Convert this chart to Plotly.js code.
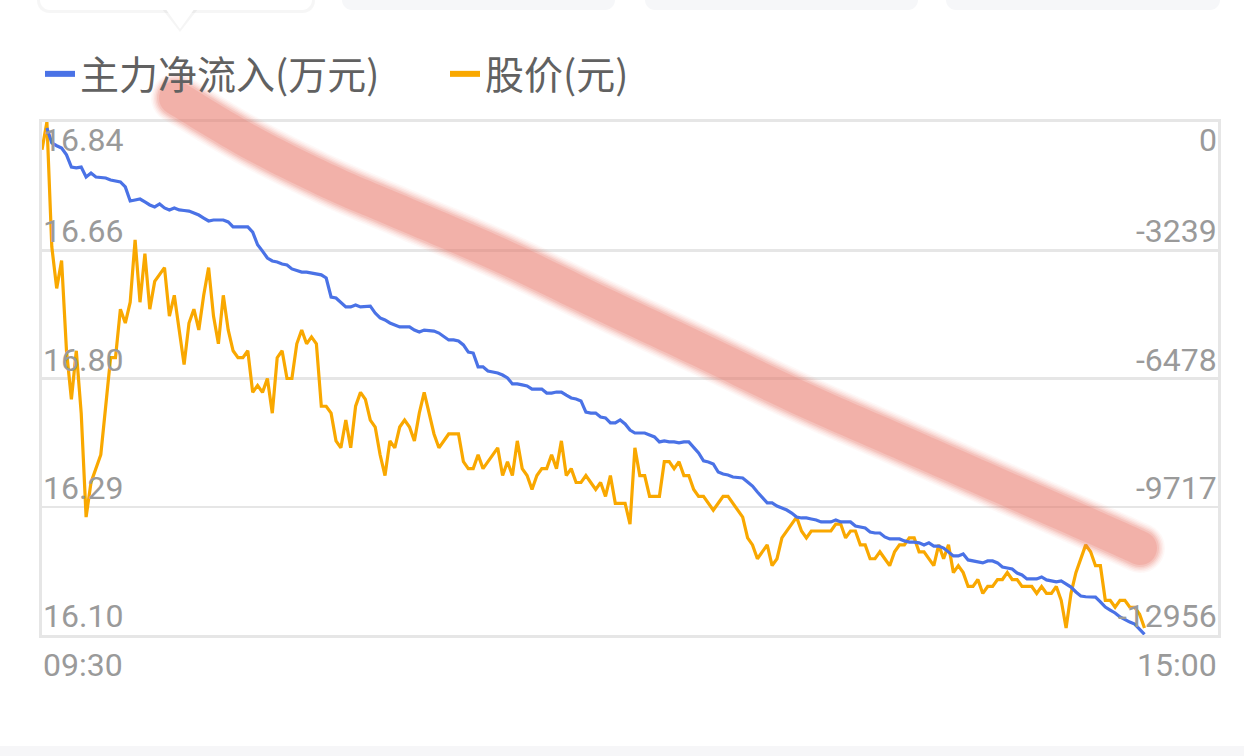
<!DOCTYPE html>
<html><head><meta charset="utf-8">
<script src="https://cdn.plot.ly/plotly-3.0.1.min.js"></script>
<style>html,body{margin:0;padding:0;background:#fff;overflow:hidden}#chart{width:1244px;height:756px}</style>
</head><body><div id="chart"></div>
<script>
// ---------- data ----------
const seriesNames = ['主力净流入(万元)', '股价(元)'];
const timeLabels = ['09:30', '15:00'];
const priceTickText = ['16.84', '16.66', '16.80', '16.29', '16.10'];
const flowTickText = ['0', '-3239', '-6478', '-9717', '-12956'];
const priceRange = [16.10, 16.84];
const flowRange = [-12956, 0];
const sessionMinutes = 240;           // 09:30 ... 15:00 (241 slots)

// stock price (元), one value per minute from 09:30
const price = [
16.80,16.84,16.66,16.60,16.64,16.51,16.44,16.51,16.42,16.27,
16.32,16.34,16.36,16.43,16.50,16.50,16.57,16.55,16.58,16.67,
16.58,16.65,16.57,16.61,16.62,16.63,16.56,16.59,16.54,16.49,
16.55,16.57,16.54,16.59,16.63,16.56,16.52,16.59,16.54,16.51,
16.50,16.50,16.51,16.45,16.46,16.45,16.47,16.42,16.50,16.51,
16.47,16.47,16.52,16.54,16.52,16.53,16.52,16.43,16.43,16.42,
16.38,16.37,16.41,16.37,16.43,16.45,16.44,16.41,16.40,16.36,
16.33,16.38,16.37,16.40,16.41,16.40,16.38,16.42,16.45,16.42,
16.39,16.37,16.38,16.39,16.39,16.39,16.35,16.34,16.34,16.36,
16.34,16.35,16.36,16.37,16.33,16.35,16.33,16.38,16.34,16.33,
16.31,16.33,16.34,16.34,16.36,16.34,16.38,16.33,16.34,16.32,
16.32,16.33,16.32,16.31,16.32,16.30,16.33,16.29,16.29,16.29,
16.26,16.37,16.33,16.33,16.30,16.30,16.30,16.35,16.35,16.34,
16.35,16.33,16.33,16.31,16.30,16.30,16.29,16.28,16.29,16.30,
16.30,16.29,16.28,16.27,16.24,16.23,16.21,16.22,16.23,16.20,
16.21,16.24,16.25,16.26,16.27,16.25,16.24,16.25,16.25,16.25,
16.25,16.25,16.26,16.26,16.24,16.25,16.25,16.23,16.23,16.21,
16.21,16.22,16.21,16.20,16.22,16.23,16.23,16.24,16.24,16.22,
16.22,16.21,16.20,16.23,16.21,16.23,16.19,16.20,16.19,16.17,
16.17,16.18,16.16,16.17,16.17,16.18,16.18,16.19,16.18,16.18,
16.17,16.17,16.17,16.16,16.17,16.16,16.16,16.17,16.15,16.11,
16.16,16.19,16.21,16.23,16.22,16.20,16.20,16.15,16.15,16.14,
16.15,16.15,16.14,16.14,16.13,16.11
];

// main net inflow (万元), one value per minute from 09:31
const flowStart = 1;
const flow = [
-150,-530,-600,-660,-830,-1140,-1160,-1140,-1390,-1290,
-1390,-1400,-1415,-1465,-1490,-1515,-1640,-1995,-1970,-1945,
-2020,-2095,-2145,-2070,-2170,-2220,-2170,-2220,-2235,-2250,
-2300,-2350,-2425,-2500,-2475,-2475,-2475,-2525,-2650,-2650,
-2650,-2650,-2780,-3100,-3260,-3435,-3510,-3535,-3585,-3610,
-3710,-3740,-3790,-3790,-3815,-3840,-3860,-3940,-4420,-4445,
-4570,-4670,-4670,-4620,-4670,-4660,-4650,-4825,-4950,-5000,
-5075,-5125,-5175,-5175,-5175,-5255,-5305,-5255,-5265,-5280,
-5330,-5430,-5505,-5505,-5530,-5630,-5810,-5835,-6185,-6185,
-6290,-6315,-6340,-6390,-6465,-6615,-6615,-6640,-6665,-6745,
-6745,-6745,-6845,-6845,-6820,-6820,-6900,-6970,-6995,-7045,
-7325,-7350,-7350,-7450,-7475,-7600,-7600,-7525,-7625,-7780,
-7855,-7855,-7855,-7905,-7955,-8080,-8055,-8080,-8080,-8105,
-8080,-8080,-8210,-8360,-8560,-8585,-8635,-8840,-8890,-8915,
-8965,-8980,-8990,-9090,-9195,-9345,-9470,-9620,-9620,-9700,
-9750,-9800,-9875,-9975,-10000,-10000,-10025,-10050,-10100,-10100,
-10100,-10050,-10100,-10100,-10100,-10205,-10230,-10255,-10355,-10380,
-10380,-10480,-10530,-10530,-10530,-10580,-10610,-10610,-10630,-10685,
-10630,-10710,-10710,-10760,-10860,-10960,-10960,-10910,-11060,-11085,
-11110,-11135,-11085,-11085,-11135,-11240,-11265,-11290,-11390,-11440,
-11540,-11540,-11540,-11490,-11565,-11590,-11615,-11590,-11670,-11745,
-11870,-11970,-11990,-12000,-12000,-12120,-12250,-12325,-12400,-12500,
-12575,-12630,-12680,-12805,-12940
];

// ---------- styling / geometry ----------
const BLUE = '#4a72e6', ORANGE = '#f9a800', GRID = '#e6e6e6', LABEL = '#9a9a9a';
const L = 42, R = 1218, T = 122, B = 635;
const pxX = x => (x - L) / (R - L);
const pxY = y => (B - y) / (B - T);

const priceX = price.map((_, i) => i);
const flowX = flow.map((_, i) => i + flowStart);

const nTicks = priceTickText.length;
const gridVals = priceTickText.map((_, i) => priceRange[1] - i * (priceRange[1] - priceRange[0]) / (nTicks - 1));

const traces = [
  {x: flowX, y: flow, yaxis: 'y2', type: 'scatter', mode: 'lines', name: seriesNames[0],
   line: {color: BLUE, width: 3.2}, showlegend: false, hoverinfo: 'skip'},
  {x: priceX, y: price, yaxis: 'y', type: 'scatter', mode: 'lines', name: seriesNames[1],
   line: {color: ORANGE, width: 3.2}, showlegend: false, hoverinfo: 'skip'},
  // legend entries
  {x: [null], y: [null], type: 'scatter', mode: 'lines', name: seriesNames[0], line: {color: BLUE, width: 6}, showlegend: true},
  {x: [null], y: [null], type: 'scatter', mode: 'lines', name: seriesNames[1], line: {color: ORANGE, width: 6}, showlegend: true}
];

// ---------- axis labels as annotations ----------
const numFont = {family: 'Roboto, "Noto Sans", sans-serif', size: 32, color: LABEL};
const annotations = [];
priceTickText.forEach((t, i) => {
  const top = i === 0;
  annotations.push({xref: 'paper', yref: 'paper', x: 0, y: 1 - i / (nTicks - 1), text: t, showarrow: false,
    xanchor: 'left', yanchor: top ? 'top' : 'bottom', xshift: -1, yshift: top ? 3 : -2, font: numFont});
});
flowTickText.forEach((t, i) => {
  const top = i === 0;
  annotations.push({xref: 'paper', yref: 'paper', x: 1, y: 1 - i / (nTicks - 1), text: t, showarrow: false,
    xanchor: 'right', yanchor: top ? 'top' : 'bottom', xshift: 1, yshift: top ? 3 : -2, font: numFont});
});
annotations.push({xref: 'paper', yref: 'paper', x: 0, y: pxY(665), text: timeLabels[0], showarrow: false,
  xanchor: 'left', yanchor: 'middle', xshift: -1, font: numFont});
annotations.push({xref: 'paper', yref: 'paper', x: 1, y: pxY(665), text: timeLabels[1], showarrow: false,
  xanchor: 'right', yanchor: 'middle', xshift: 1, font: numFont});

// ---------- decorative shapes (tabs, bottom band, marker stroke) ----------
function P(pts, close) {
  return pts.map((p, i) => (i ? 'L' : 'M') + pxX(p[0]).toFixed(5) + ',' + pxY(p[1]).toFixed(5)).join(' ') + (close ? ' Z' : '');
}
function tabPts(x0, x1, yb, r) {
  const pts = [[x0, -30], [x1, -30]];
  for (let k = 0; k <= 8; k++) { const a = k / 8 * Math.PI / 2; pts.push([x1 - r + r * Math.cos(a), yb - r + r * Math.sin(a)]); }
  for (let k = 0; k <= 8; k++) { const a = Math.PI / 2 + k / 8 * Math.PI / 2; pts.push([x0 + r + r * Math.cos(a), yb - r + r * Math.sin(a)]); }
  return pts;
}
const shapes = [];
shapes.push({type: 'path', xref: 'paper', yref: 'paper', layer: 'above', path: P(tabPts(37, 315, 13, 12), true), fillcolor: 'rgba(0,0,0,0.035)', line: {width: 0}});
shapes.push({type: 'path', xref: 'paper', yref: 'paper', layer: 'above', path: P([[162, 9], [198, 9], [180, 32]], true), fillcolor: 'rgba(0,0,0,0.04)', line: {width: 0}});
shapes.push({type: 'path', xref: 'paper', yref: 'paper', layer: 'above', path: P(tabPts(40, 312, 10, 10), true), fillcolor: '#ffffff', line: {width: 0}});
shapes.push({type: 'path', xref: 'paper', yref: 'paper', layer: 'above', path: P([[165, 8], [195, 8], [180, 29]], true), fillcolor: '#ffffff', line: {width: 0}});
[[342, 615], [645, 918], [946, 1220]].forEach(([a, b]) => {
  shapes.push({type: 'path', xref: 'paper', yref: 'paper', layer: 'above', path: P(tabPts(a, b, 10, 10), true), fillcolor: '#f6f7f9', line: {width: 0}});
});
shapes.push({type: 'rect', xref: 'paper', yref: 'paper', layer: 'above', x0: pxX(-5), x1: pxX(1250), y0: pxY(746), y1: pxY(760), fillcolor: '#f6f6f8', line: {width: 0}});

// hand-drawn highlighter stroke
const strokeCenters = [[176,98],[250,142],[330,182],[400,212],[500,255],[600,303],[700,350],[800,398],[900,442],[1000,486],[1100,530],[1140,548]];
function catmull(pts, seg) {
  const out = [];
  for (let i = 0; i < pts.length - 1; i++) {
    const p0 = pts[i - 1] || pts[i], p1 = pts[i], p2 = pts[i + 1], p3 = pts[i + 2] || pts[i + 1];
    for (let s = 0; s < seg; s++) {
      const t = s / seg, t2 = t * t, t3 = t2 * t;
      out.push([0, 1].map(k => 0.5 * ((2 * p1[k]) + (-p0[k] + p2[k]) * t + (2 * p0[k] - 5 * p1[k] + 4 * p2[k] - p3[k]) * t2 + (-p0[k] + 3 * p1[k] - 3 * p2[k] + p3[k]) * t3)));
    }
  }
  out.push(pts[pts.length - 1]);
  return out;
}
function band(pts, w) {
  const h = w / 2, n = pts.length, left = [], right = [], tans = [], nors = [];
  for (let i = 0; i < n; i++) {
    const a = pts[Math.max(0, i - 1)], b = pts[Math.min(n - 1, i + 1)];
    let tx = b[0] - a[0], ty = b[1] - a[1]; const len = Math.hypot(tx, ty); tx /= len; ty /= len;
    tans.push([tx, ty]); nors.push([-ty, tx]);
    left.push([pts[i][0] + nors[i][0] * h, pts[i][1] + nors[i][1] * h]);
    right.push([pts[i][0] - nors[i][0] * h, pts[i][1] - nors[i][1] * h]);
  }
  const outline = left.slice();
  const pe = pts[n - 1], te = tans[n - 1], ne = nors[n - 1];
  for (let k = 1; k < 16; k++) { const a = k / 16 * Math.PI; outline.push([pe[0] + h * (Math.cos(a) * ne[0] + Math.sin(a) * te[0]), pe[1] + h * (Math.cos(a) * ne[1] + Math.sin(a) * te[1])]); }
  for (let i = n - 1; i >= 0; i--) outline.push(right[i]);
  const ps = pts[0], ts = tans[0], ns = nors[0];
  for (let k = 1; k < 16; k++) { const a = k / 16 * Math.PI; outline.push([ps[0] + h * (-Math.cos(a) * ns[0] - Math.sin(a) * ts[0]), ps[1] + h * (-Math.cos(a) * ns[1] - Math.sin(a) * ts[1])]); }
  return outline;
}
const curve = catmull(strokeCenters, 12);
[[50, 0.05], [47, 0.07], [44, 0.09], [41, 0.12], [38, 0.17], [34, 0.22]].forEach(([w, a]) => {
  shapes.push({type: 'path', xref: 'paper', yref: 'paper', layer: 'above', path: P(band(curve, w), true),
    fillcolor: 'rgba(234,115,100,' + a + ')', line: {width: 0}});
});

const layout = {
  width: 1244, height: 756,
  margin: {l: L, r: 1244 - R, t: T, b: 756 - B, pad: 0},
  paper_bgcolor: '#ffffff', plot_bgcolor: '#ffffff',
  showlegend: true,
  legend: {orientation: 'h', x: pxX(40), xanchor: 'left', y: pxY(74), yanchor: 'middle',
    font: {family: '"Noto Sans CJK SC", sans-serif', size: 39, color: '#616161'},
    entrywidth: 360, entrywidthmode: 'pixels', itemwidth: 30, bgcolor: 'rgba(0,0,0,0)', borderwidth: 0},
  xaxis: {range: [0, sessionMinutes], showgrid: false, zeroline: false, showticklabels: false, ticks: '',
    showline: true, mirror: true, linecolor: GRID, linewidth: 3, fixedrange: true},
  yaxis: {range: priceRange, tickvals: gridVals, showgrid: true, gridcolor: GRID, gridwidth: 2.5,
    zeroline: false, showticklabels: false, ticks: '', showline: true, mirror: true, linecolor: GRID, linewidth: 3, fixedrange: true},
  yaxis2: {range: flowRange, overlaying: 'y', side: 'right', showgrid: false, zeroline: false,
    showticklabels: false, ticks: '', showline: false, fixedrange: true},
  annotations: annotations,
  shapes: shapes,
  hovermode: false
};

Plotly.newPlot('chart', traces, layout, {displayModeBar: false, staticPlot: true});
</script>
</body></html>
